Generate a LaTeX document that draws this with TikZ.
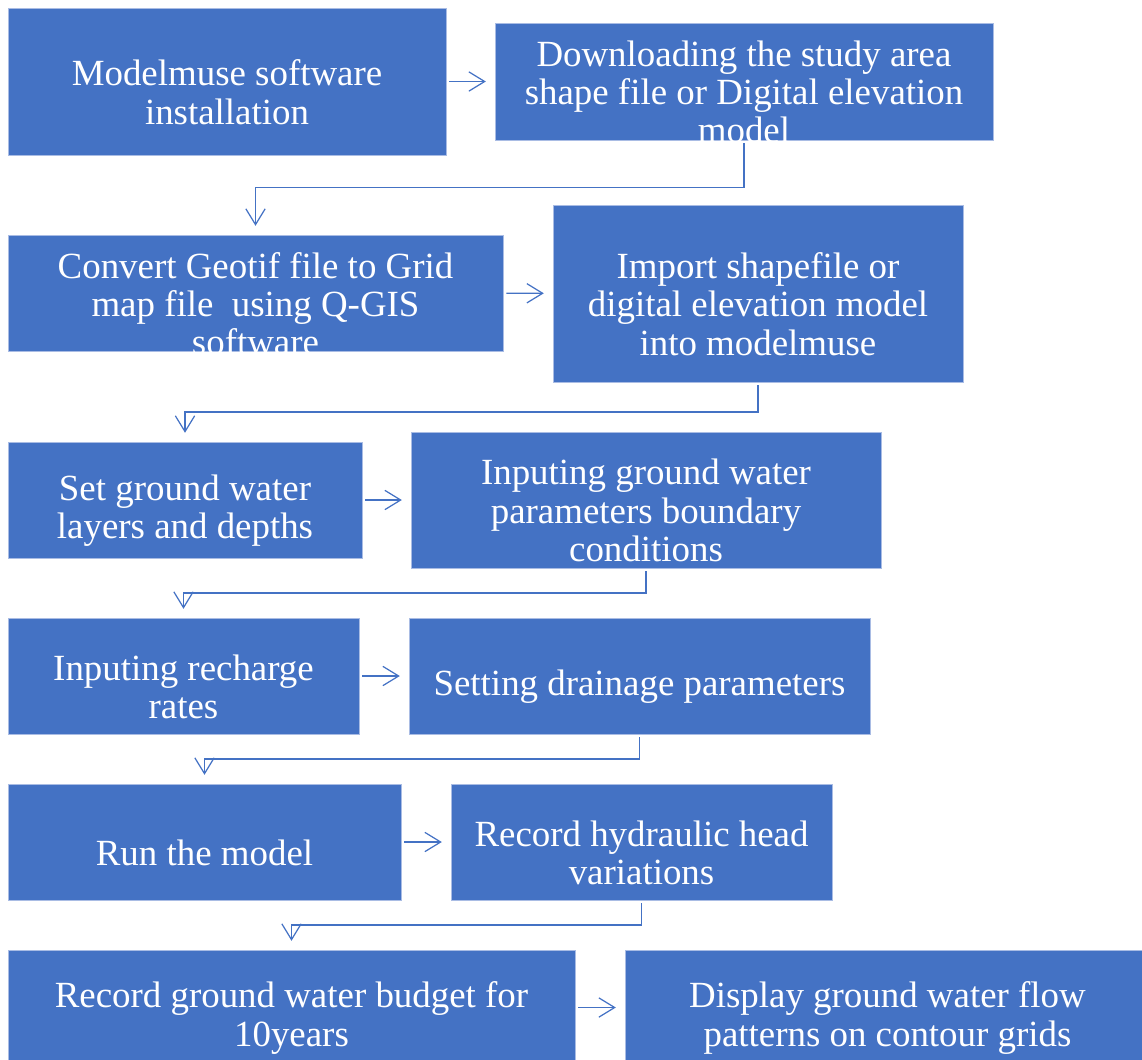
\documentclass[tikz,border=0pt]{standalone}
\usepackage{fontspec}
\setmainfont{Liberation Serif}
\usetikzlibrary{arrows.meta,calc}
\definecolor{boxblue}{HTML}{4472C4}
\definecolor{boxedge}{HTML}{A9BCE4}
\begin{document}
\begin{tikzpicture}[x=0.02cm,y=-0.02cm,
    stepbox/.style={rectangle,fill=boxblue,draw=boxedge,line width=0.5pt,inner sep=0pt},
    txt/.style={text=white,align=center,yshift=-6pt,font=\fontsize{21}{21.8}\selectfont},
    flow/.style={draw=boxblue,line width=0.7pt,-{Straight Barb[length=9pt,width=11pt]},
        shorten <=1.7pt,shorten >=5pt}]

	\useasboundingbox (0,0) rectangle (1142,1059);

	% first row
	\node[stepbox,minimum width=8.76cm,minimum height=2.94cm,label={[txt]center:Modelmuse software\\installation}] (mm) at (227,81.5) {};
	\node[stepbox,minimum width=9.96cm,minimum height=2.34cm,label={[txt]center:Downloading the study area\\shape file or Digital elevation\\model}] (dl) at (744,81.5) {};

	% second row
	\node[stepbox,minimum width=9.90cm,minimum height=2.32cm,label={[txt]center:Convert Geotif file to Grid\\map file\ \ using Q-GIS\\software}] (cv) at (255.5,293) {};
	\node[stepbox,minimum width=8.20cm,minimum height=3.54cm,label={[txt]center:Import shapefile or\\digital elevation model\\into modelmuse}] (im) at (758,293.5) {};

	% third row
	\node[stepbox,minimum width=7.08cm,minimum height=2.32cm,label={[txt]center:Set ground water\\layers and depths}] (sg) at (185,500) {};
	\node[stepbox,minimum width=9.40cm,minimum height=2.72cm,label={[txt]center:Inputing ground water\\parameters boundary\\conditions}] (ig) at (646,500) {};

	% fourth row
	\node[stepbox,minimum width=7.02cm,minimum height=2.32cm,label={[txt]center:Inputing recharge\\rates}] (ir) at (183.5,676) {};
	\node[stepbox,minimum width=9.22cm,minimum height=2.32cm,label={[txt]center:Setting drainage parameters}] (sd) at (639.5,676) {};

	% fifth row
	\node[stepbox,minimum width=7.86cm,minimum height=2.32cm,label={[txt]center:Run the model}] (rm) at (204.5,842) {};
	\node[stepbox,minimum width=7.62cm,minimum height=2.32cm,label={[txt]center:Record hydraulic head\\variations}] (rh) at (641.5,842) {};

	% last row (runs off the page)
	\node[stepbox,minimum width=11.34cm,minimum height=2.30cm,label={[txt]center:Record ground water budget for\\10years}] (rb) at (291.5,1007.5) {};
	\node[stepbox,minimum width=10.50cm,minimum height=2.30cm,label={[txt]center:Display ground water flow\\patterns on contour grids}] (dp) at (887.5,1007.5) {};

	% arrows across
	\draw[flow] (mm) -- (dl); \draw[flow] (cv) -- (im);
	\draw[flow] (sg) -- (ig); \draw[flow] (ir) -- (sd);
	\draw[flow] (rm) -- (rh); \draw[flow] (rb) -- (dp);

	% arrows back to the left
	\foreach \a/\b in {dl/cv,im/sg,ig/ir,sd/rm,rh/rb}
	  \draw[flow] (\a.south) |- ($(\a.south)!.5!(\b.north)$) -| (\b.north);
\end{tikzpicture}
\end{document}
